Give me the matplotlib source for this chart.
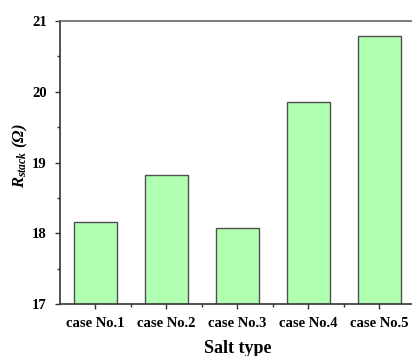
import matplotlib
matplotlib.use("Agg")
import matplotlib.pyplot as plt
from matplotlib.ticker import MultipleLocator, FixedLocator

categories = ["case No.1", "case No.2", "case No.3", "case No.4", "case No.5"]
values = [18.16, 18.83, 18.08, 19.86, 20.79]
yticks = [17, 18, 19, 20, 21]

plt.rcParams['font.family'] = ['Liberation Serif', 'DejaVu Serif']
plt.rcParams['font.weight'] = 'bold'
plt.rcParams['mathtext.fontset'] = 'custom'
plt.rcParams['mathtext.rm'] = 'Liberation Serif:bold:italic'
plt.rcParams['mathtext.it'] = 'Liberation Serif:bold:italic'
plt.rcParams['mathtext.bf'] = 'Liberation Serif:bold:italic'

fig = plt.figure(figsize=(4.12, 3.56), dpi=100)
ax = fig.add_axes([60/412, 1-304/356, 355/412, (304-21)/356])

x = list(range(len(categories)))
ax.bar(x, values, width=0.6, bottom=0, color="#b1ffb1", edgecolor="#505050", linewidth=1.0)

ax.set_xlim(-0.5, 4.5)
ax.set_ylim(17, 21)
ax.set_xticks(x)
ax.set_xticklabels(categories, fontsize=10.5, fontweight='bold')
ax.xaxis.set_minor_locator(FixedLocator([0.5, 1.5, 2.5, 3.5]))
ax.set_yticks(yticks)
ax.set_yticklabels([str(v) for v in yticks], fontsize=10.5, fontweight='bold')
ax.yaxis.set_minor_locator(MultipleLocator(0.5))

ax.tick_params(which='major', direction='out', length=3.5, width=1.0, color='#333333')
ax.tick_params(which='minor', direction='out', length=2, width=1.0, color='#333333')
ax.tick_params(axis='x', which='major', pad=6)
ax.tick_params(axis='y', which='major', pad=6)

for s in ['left', 'bottom']:
    ax.spines[s].set_color('#333333')
    ax.spines[s].set_linewidth(1.2)
ax.spines['top'].set_color('#666666')
ax.spines['top'].set_linewidth(1.2)
ax.spines['right'].set_visible(False)

ax.set_xlabel("Salt type", fontsize=13, fontweight='bold')
ax.xaxis.set_label_coords(0.5, -0.128)
ax.xaxis.label.set_verticalalignment('top')
ax.set_ylabel(r"$R_{stack}\ (\Omega)$", fontsize=12)
ax.yaxis.set_label_coords(-0.085, 0.525)

fig.savefig("out.png", dpi=100)
